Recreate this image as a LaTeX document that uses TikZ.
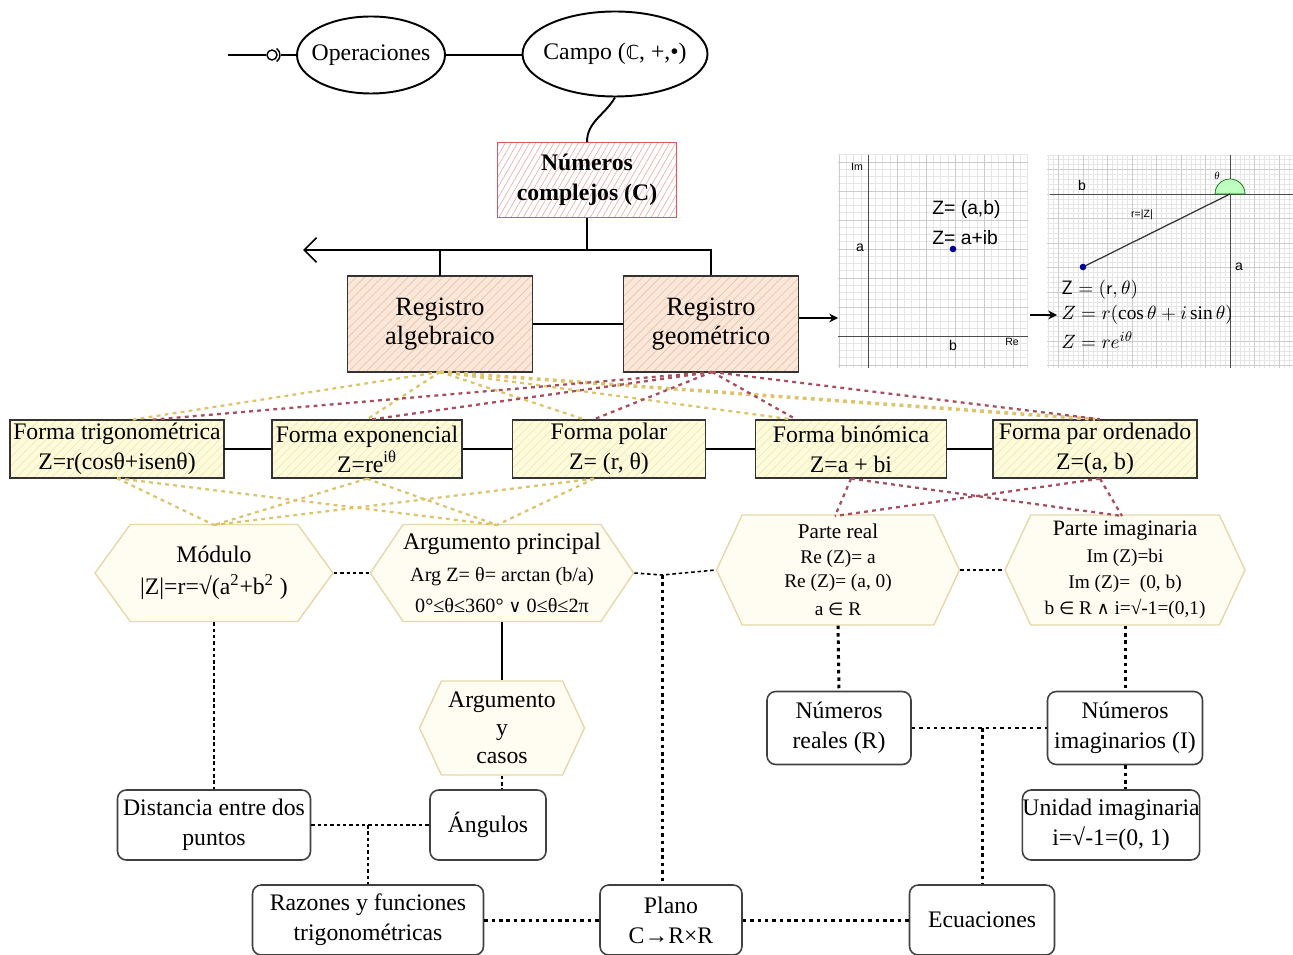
\documentclass[tikz,border=0pt]{standalone}
\usepackage{fontspec}
\setmainfont{Liberation Serif}
\newfontfamily\symf{DejaVu Sans}
\newfontfamily\sansf{Liberation Sans}
\usetikzlibrary{shapes.geometric,shapes.symbols,patterns.meta,arrows.meta}
\newcommand\pxu{0.02cm}
\definecolor{regfill}{HTML}{FBE6D8}
\definecolor{reghatch}{HTML}{E2C4AC}
\definecolor{formfill}{HTML}{FDFBDA}
\definecolor{formhatch}{HTML}{ECE4B4}
\definecolor{ncred}{HTML}{D9585C}
\definecolor{nchatch}{HTML}{EBA9A9}
\definecolor{hexfill}{HTML}{FFFCF2}
\definecolor{hexline}{HTML}{E6D8AA}
\definecolor{ycol}{HTML}{DDC46C}
\definecolor{rcol}{HTML}{A5505C}
\definecolor{gmaj}{HTML}{CCCCCC}
\definecolor{gmin}{HTML}{E6E6E6}
\tikzset{
  base/.style={align=center, inner sep=0pt},
  ell/.style={base, ellipse, draw, line width=1.1pt, inner xsep=-4pt, font=\fontsize{13.5}{16}\selectfont},
  ncbox/.style={base, rectangle, draw=ncred, line width=0.8pt, preaction={fill=white},
    pattern={Lines[angle=60,distance=3pt,line width=0.35pt]}, pattern color=nchatch,
    font=\bfseries\fontsize{13.5}{17}\selectfont},
  regbox/.style={base, rectangle, draw=black!80, line width=0.8pt, preaction={fill=regfill},
    pattern={Lines[angle=45,distance=3.5pt,line width=0.35pt]}, pattern color=reghatch,
    font=\fontsize{15}{16.5}\selectfont},
  formbox/.style={base, rectangle, draw=black!80, line width=0.8pt, preaction={fill=formfill},
    pattern={Lines[angle=45,distance=3.5pt,line width=0.3pt]}, pattern color=formhatch,
    font=\fontsize{13.5}{17}\selectfont},
  hexa/.style={base, signal, signal to=east and west, draw=hexline, line width=0.8pt,
    fill=hexfill, font=\fontsize{13.5}{18}\selectfont},
  rbox/.style={base, rectangle, rounded corners=5pt, draw=black!75, line width=0.9pt,
    fill=white, font=\fontsize{13.5}{17}\selectfont},
  conn/.style={line width=1.1pt},
  ydash/.style={draw=ycol, line width=1.3pt, dash pattern=on 2.2pt off 2.4pt},
  rdash/.style={draw=rcol, line width=1.3pt, dash pattern=on 2.2pt off 2.4pt},
  bdot/.style={line width=0.9pt, dash pattern=on 2pt off 1.6pt},
  tdot/.style={line width=1.7pt, dash pattern=on 2pt off 2.2pt},
  imtxt/.style={inner sep=0pt, font=\sansf\fontsize{11}{13}\selectfont},
  tinytxt/.style={inner sep=0pt, font=\sansf\fontsize{6}{7}\selectfont}
}
\begin{document}
\begin{tikzpicture}[x=0.02cm, y=-0.02cm]
\useasboundingbox (0,0) rectangle (1293,955);

% ---------- top ellipses ----------
\node[ell, minimum width=148*\pxu, minimum height=77*\pxu] (ops) at (371,55) {Operaciones};
\node[ell, minimum width=185*\pxu, minimum height=85*\pxu] (campo) at (615,54) {Campo ({\symf\fontsize{11}{13}\selectfont ℂ}, +,•)};
\coordinate (lstart) at (228,55);
\coordinate (lend) at (266,55);
\coordinate (sock) at (272,55);
\draw[conn] (lstart) -- (lend);
\draw[line width=0.8pt] (sock) circle (5);
\draw[line width=0.8pt] ([shift={(-55:8)}]sock) arc (-55:55:8);
\draw[conn] (281,55) -- (ops.west);
\draw[conn] (ops.east) -- (ops.east -| campo.west);

% ---------- Numeros complejos ----------
\node[ncbox, minimum width=179*\pxu, minimum height=75*\pxu] (nc) at (587,180) {Números\\complejos (C)};
\draw[conn] (campo.south) to[out=-120, in=90] (nc.north);

% ---------- registros ----------
\node[regbox, minimum width=185*\pxu, minimum height=96*\pxu] (regA) at (440,324) {Registro\\algebraico};
\node[regbox, minimum width=175*\pxu, minimum height=96*\pxu] (regG) at (711,324) {Registro\\geométrico};
\coordinate (hub) at (587,250);
\coordinate (hubL) at (303,250);
\draw[conn] (nc.south) -- (hub);
\draw[conn, -{Straight Barb[length=7pt, width=14pt, line width=1pt]}] (hub) -- (hubL);
\draw[conn] (hub) -| (regG.north);
\draw[conn] (regA.north) |- (hub);
\draw[conn] (regA.east) -- (regG.west);

% ---------- images ----------
\begin{scope}
  \clip (838,155) rectangle (1028,368);
  \fill[white] (838,155) rectangle (1028,368);
  \foreach \k in {-8,...,27} {
    \draw[gmin, line width=0.3pt] ({868+7.25*\k},155) -- ({868+7.25*\k},368);
  }
  \foreach \k in {-6,...,30} {
    \draw[gmin, line width=0.3pt] (838,{336-7.25*\k}) -- (1028,{336-7.25*\k});
  }
  \foreach \k in {-1,...,6} {
    \draw[gmaj, line width=0.4pt] ({868+29*\k},155) -- ({868+29*\k},368);
  }
  \foreach \k in {-1,...,7} {
    \draw[gmaj, line width=0.4pt] (838,{336-29*\k}) -- (1028,{336-29*\k});
  }
  \draw[black!70, line width=0.4pt] (868,155) -- (868,368);
  \draw[black!70, line width=0.4pt] (838,336) -- (1028,336);
\end{scope}
\node[tinytxt] (im1) at (857,167) {Im};
\node[tinytxt] (re1) at (1012,342) {Re};
\node[imtxt, font=\sansf\fontsize{8}{9}\selectfont] (a1) at (860,248) {a};
\node[imtxt, font=\sansf\fontsize{8}{9}\selectfont] (b1) at (953,345) {b};
\fill[blue!60!black] (953,249) circle (3.3);
\node[imtxt, anchor=west] (z1) at (932,210) {Z= (a,b)};
\node[imtxt, anchor=west] (z2) at (932,238) {Z= a+ib};

\begin{scope}
  \clip (1047,155) rectangle (1293,368);
  \fill[white] (1047,155) rectangle (1293,368);
  \foreach \k in {-46,...,12} {
    \draw[gmin, line width=0.3pt] ({1230+4.9*\k},155) -- ({1230+4.9*\k},368);
  }
  \foreach \k in {-36,...,9} {
    \draw[gmin, line width=0.3pt] (1047,{194-4.9*\k}) -- (1293,{194-4.9*\k});
  }
  \foreach \k in {-8,...,3} {
    \draw[gmaj, line width=0.4pt] ({1230+24.5*\k},155) -- ({1230+24.5*\k},368);
  }
  \foreach \k in {-8,...,2} {
    \draw[gmaj, line width=0.4pt] (1047,{194-24.5*\k}) -- (1293,{194-24.5*\k});
  }
  \draw[black!70, line width=0.5pt] (1230,155) -- (1230,368);
  \draw[black!70, line width=0.5pt] (1050,194) -- (1293,194);
  \fill[green!25, draw=green!45!black, line width=0.4pt] (1245,194) arc (0:-180:15) -- cycle;
  \draw[black!80, line width=0.7pt] (1230,194) -- (1083,267);
\end{scope}
\fill[blue!60!black] (1083,267) circle (3.3);
\node[imtxt, font=\sansf\fontsize{8}{9}\selectfont] (b2) at (1082,185) {b};
\node[imtxt, font=\sansf\fontsize{8}{9}\selectfont] (a2) at (1239,267) {a};
\node[tinytxt, font=\itshape\fontsize{6}{7}\selectfont] (th2) at (1217,176) {θ};
\node[tinytxt] (rz) at (1142,215) {r=|Z|};
\node[inner sep=0pt, anchor=west, font=\fontsize{11}{13}\selectfont] (f1) at (1061,290) {$\mathsf{Z}=(\mathsf{r},\theta)$};
\node[inner sep=0pt, anchor=west, font=\fontsize{11}{13}\selectfont] (f2) at (1061,315) {$Z=r(\cos\theta+i\sin\theta)$};
\node[inner sep=0pt, anchor=west, font=\fontsize{11}{13}\selectfont] (f3) at (1061,340) {$Z=re^{i\theta}$};
\coordinate (img1) at (838,318);
\coordinate (img2a) at (1030,315);
\coordinate (img2b) at (1057,315);
\draw[line width=0.9pt, -{Stealth[length=5pt, width=5pt]}] (regG.east |- img1) -- (img1);
\draw[line width=0.9pt, -{Stealth[length=5pt, width=5pt]}] (img2a) -- (img2b);

% ---------- formas ----------
\node[formbox, minimum width=214*\pxu, minimum height=58*\pxu] (ftrig) at (117,449) {Forma trigonométrica\\Z=r(cosθ+isenθ)};
\node[formbox, minimum width=190*\pxu, minimum height=58*\pxu] (fexp) at (367,449) {Forma exponencial\\Z=re\textsuperscript{iθ}};
\node[formbox, minimum width=193*\pxu, minimum height=58*\pxu] (fpol) at (609,449) {Forma polar\\Z= (r, θ)};
\node[formbox, minimum width=191*\pxu, minimum height=58*\pxu] (fbin) at (851,449) {Forma binómica\\Z=a + bi};
\node[formbox, minimum width=204*\pxu, minimum height=58*\pxu] (fpar) at (1095,449) {Forma par ordenado\\Z=(a, b)};
\draw[conn] (ftrig.east) -- (fexp.west);
\draw[conn] (fexp.east) -- (fpol.west);
\draw[conn] (fpol.east) -- (fbin.west);
\draw[conn] (fbin.east) -- (fpar.west);

% registro -> formas
\coordinate (rAb) at (440,372);
\coordinate (rGb) at (712,372);
\draw[ydash] (rAb) -- ([xshift=15*\pxu]ftrig.north);
\draw[ydash] (rAb) -- (fexp.north);
\draw[ydash] (rAb) -- ([xshift=-25*\pxu]fpol.north);
\draw[ydash] (rAb) -- ([xshift=-60*\pxu]fbin.north);
\draw[ydash, line width=2pt] (rAb) -- (fpar.north);
\draw[rdash] (rGb) -- ([xshift=35*\pxu]ftrig.north);
\draw[rdash] (rGb) -- ([xshift=5*\pxu]fexp.north);
\draw[rdash] (rGb) -- ([xshift=-15*\pxu]fpol.north);
\draw[rdash] (rGb) -- ([xshift=-55*\pxu]fbin.north);
\draw[rdash] (rGb) -- ([xshift=5*\pxu]fpar.north);

% ---------- hexagons ----------
\node[hexa, signal pointer angle=108, minimum width=238*\pxu, minimum height=97*\pxu] (mod) at (214,573) {Módulo\\|Z|=r=√(a\textsuperscript{2}+b\textsuperscript{2} )};
\node[hexa, signal pointer angle=112, minimum width=240*\pxu, minimum height=97*\pxu] (argp) at (502,573) {Argumento principal\\\fontsize{11.5}{17}\selectfont Arg Z= θ= arctan (b/a)\\\fontsize{11.5}{17}\selectfont 0°≤θ≤360° {\symf\fontsize{10}{12}\selectfont ∨} 0≤θ≤2π};
\node[hexa, signal pointer angle=130, minimum width=243*\pxu, minimum height=110*\pxu, font=\fontsize{12}{14}\selectfont] (preal) at (838,570) {Parte real\\\fontsize{11}{14}\selectfont Re (Z)= a\\\fontsize{11}{14}\selectfont Re (Z)= (a, 0)\\[2pt]\fontsize{11}{14}\selectfont a {\symf\fontsize{10}{12}\selectfont ∈} R};
\node[hexa, signal pointer angle=130, minimum width=240*\pxu, minimum height=110*\pxu, font=\fontsize{12.5}{15}\selectfont] (pimag) at (1125,570) {Parte imaginaria\\\fontsize{11}{15}\selectfont Im (Z)=bi\\\fontsize{11}{15}\selectfont Im (Z)=~ (0, b)\\\fontsize{11}{15}\selectfont b {\symf\fontsize{10}{12}\selectfont ∈} R {\symf\fontsize{10}{12}\selectfont ∧} i=√-1=(0,1)};
\node[hexa, signal pointer angle=130, minimum width=165*\pxu, minimum height=94*\pxu, font=\fontsize{13.5}{16}\selectfont] (argc) at (502,728) {Argumento\\y\\casos};

% formas -> hexagons
\coordinate (mTop) at (214,525);
\coordinate (aTop) at (497,525);
\draw[ydash] (ftrig.south) -- (mTop);
\draw[ydash] (ftrig.south) -- (aTop);
\draw[ydash] (fexp.south) -- (mTop);
\draw[ydash] (fexp.south) -- (aTop);
\draw[ydash] ([xshift=-15*\pxu]fpol.south) -- (mTop);
\draw[ydash] ([xshift=-15*\pxu]fpol.south) -- (aTop);
\coordinate (prTop) at (835,516);
\coordinate (piTop) at (1122,516);
\draw[rdash] (fbin.south) -- (prTop);
\draw[rdash] (fbin.south) -- (piTop);
\draw[rdash] ([xshift=5*\pxu]fpar.south) -- (prTop);
\draw[rdash] ([xshift=5*\pxu]fpar.south) -- (piTop);

% ---------- bottom boxes ----------
\node[rbox, minimum width=193*\pxu, minimum height=70*\pxu] (dist) at (214,825) {Distancia entre dos\\puntos};
\node[rbox, minimum width=116*\pxu, minimum height=70*\pxu] (ang) at (488,825) {Ángulos};
\node[rbox, minimum width=231*\pxu, minimum height=70*\pxu] (raz) at (368,920) {Razones y funciones\\trigonométricas};
\node[rbox, minimum width=142*\pxu, minimum height=70*\pxu] (plano) at (671,920) {Plano\\C→R×R};
\node[rbox, minimum width=145*\pxu, minimum height=70*\pxu] (ecu) at (982,920) {Ecuaciones};
\node[rbox, minimum width=144*\pxu, minimum height=73*\pxu] (nreal) at (839,728) {Números\\reales (R)};
\node[rbox, minimum width=155*\pxu, minimum height=73*\pxu] (nimag) at (1125,728) {Números\\imaginarios (I)};
\node[rbox, minimum width=163*\pxu, minimum height=70*\pxu] (unid) at (1111,825) {Unidad imaginaria\\i=√-1=(0, 1)};

% ---------- connectors lower ----------
\draw[bdot] (mod.east) -- (argp.west);
\coordinate (j1) at (662,575);
\draw[bdot] (argp.east) -- (j1) -- (preal.west);
\draw[tdot] (j1) -- (j1 |- plano.north);
\draw[bdot] (preal.east) -- (pimag.west);
\draw[conn] (argp.south) -- (argc.north);
\draw[bdot] (argc.south) -- (argc.south |- ang.north);
\draw[bdot] (mod.south) -- (dist.north);
\draw[bdot] (dist.east) -- (ang.west);
\coordinate (j2) at (368,825);
\draw[bdot] (j2) -- (raz.north);
\draw[tdot] (raz.east) -- (plano.west);
\draw[tdot] (plano.east) -- (ecu.west);
\draw[tdot] (preal.south) -- (nreal.north);
\draw[tdot] (pimag.south) -- (nimag.north);
\draw[tdot] (nreal.east) -- (nimag.west);
\coordinate (j3) at (982,728);
\draw[tdot] (j3) -- (ecu.north);
\draw[tdot] (nimag.south) -- (nimag.south |- unid.north);
\end{tikzpicture}
\end{document}
